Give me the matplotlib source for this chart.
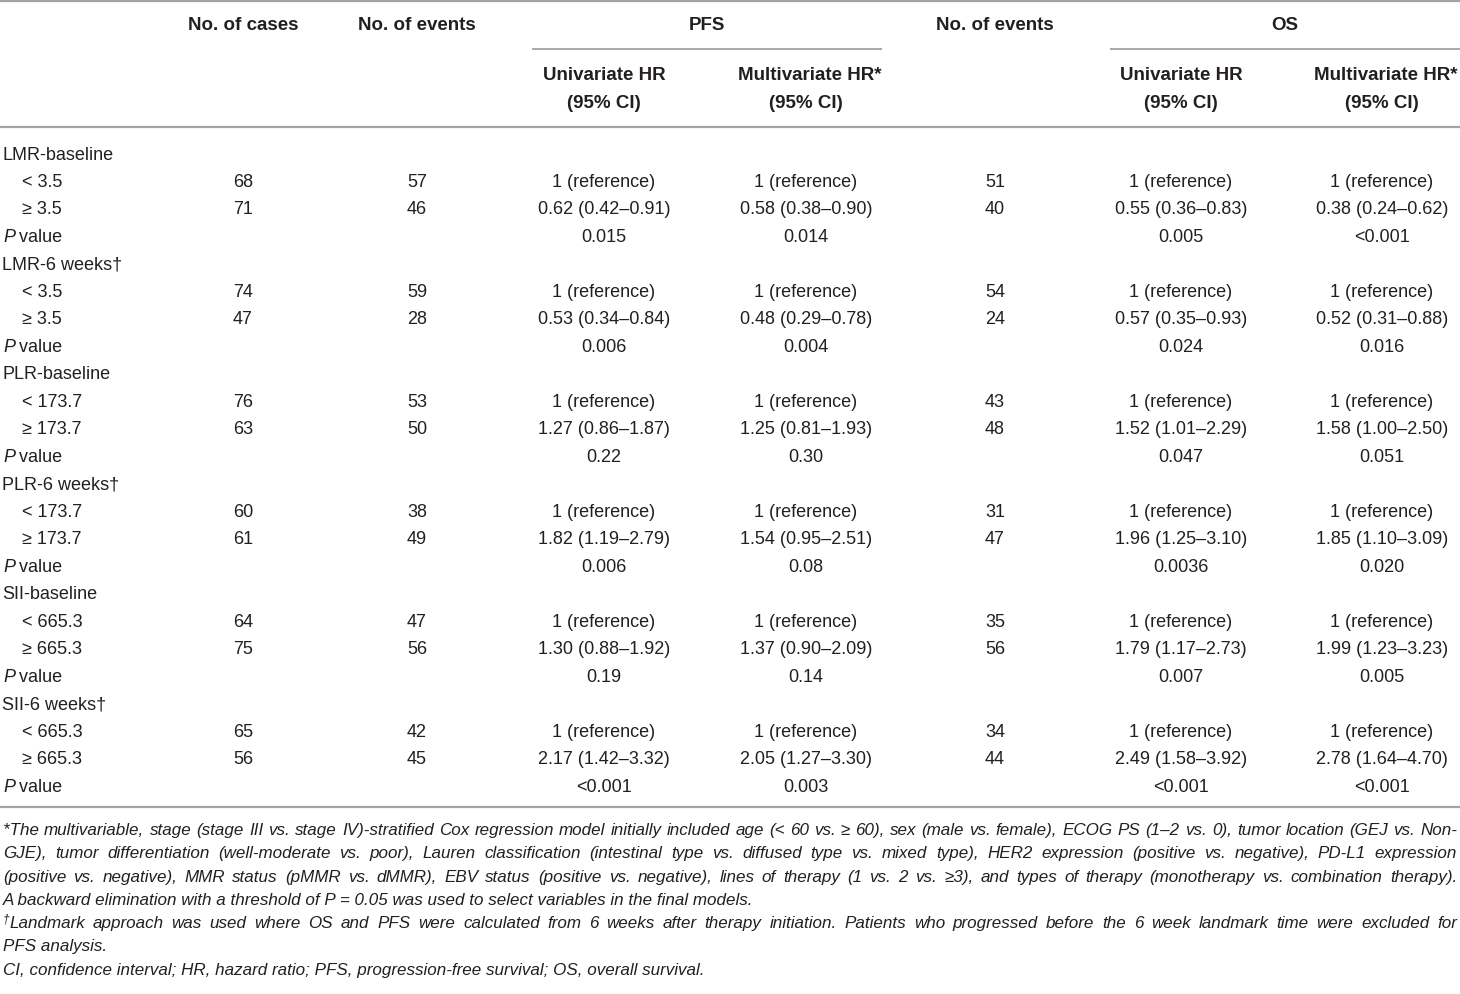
import matplotlib
matplotlib.use("Agg")
import matplotlib.pyplot as plt

# ---- table data ----
groups = ["LMR-baseline", "LMR-6 weeks\u2020", "PLR-baseline", "PLR-6 weeks\u2020",
          "SII-baseline", "SII-6 weeks\u2020"]
cutoffs = ["3.5", "3.5", "173.7", "173.7", "665.3", "665.3"]
cases = [[68, 71], [74, 47], [76, 63], [60, 61], [64, 75], [65, 56]]
pfs_events = [[57, 46], [59, 28], [53, 50], [38, 49], [47, 56], [42, 45]]
pfs_uni = ["0.62 (0.42\u20130.91)", "0.53 (0.34\u20130.84)", "1.27 (0.86\u20131.87)",
           "1.82 (1.19\u20132.79)", "1.30 (0.88\u20131.92)", "2.17 (1.42\u20133.32)"]
pfs_uni_p = ["0.015", "0.006", "0.22", "0.006", "0.19", "<0.001"]
pfs_multi = ["0.58 (0.38\u20130.90)", "0.48 (0.29\u20130.78)", "1.25 (0.81\u20131.93)",
             "1.54 (0.95\u20132.51)", "1.37 (0.90\u20132.09)", "2.05 (1.27\u20133.30)"]
pfs_multi_p = ["0.014", "0.004", "0.30", "0.08", "0.14", "0.003"]
os_events = [[51, 40], [54, 24], [43, 48], [31, 47], [35, 56], [34, 44]]
os_uni = ["0.55 (0.36\u20130.83)", "0.57 (0.35\u20130.93)", "1.52 (1.01\u20132.29)",
          "1.96 (1.25\u20133.10)", "1.79 (1.17\u20132.73)", "2.49 (1.58\u20133.92)"]
os_uni_p = ["0.005", "0.024", "0.047", "0.0036", "0.007", "<0.001"]
os_multi = ["0.38 (0.24\u20130.62)", "0.52 (0.31\u20130.88)", "1.58 (1.00\u20132.50)",
            "1.85 (1.10\u20133.09)", "1.99 (1.23\u20133.23)", "2.78 (1.64\u20134.70)"]
os_multi_p = ["<0.001", "0.016", "0.051", "0.020", "0.005", "<0.001"]

# footnote lines: (text, justified?, dagger prefix?)
notes = [
    ("*The multivariable, stage (stage III vs. stage IV)-stratified Cox regression model initially included "
     "age (< 60 vs. \u2265 60), sex (male vs. female), ECOG PS (1\u20132 vs. 0), tumor location (GEJ vs. Non-", True, False),
    ("GJE), tumor differentiation (well-moderate vs. poor), Lauren classification (intestinal type vs. "
     "diffused type vs. mixed type), HER2 expression (positive vs. negative), PD-L1 expression", True, False),
    ("(positive vs. negative), MMR status (pMMR vs. dMMR), EBV status (positive vs. negative), lines of "
     "therapy (1 vs. 2 vs. \u22653), and types of therapy (monotherapy vs. combination therapy).", True, False),
    ("A backward elimination with a threshold of P = 0.05 was used to select variables in the final models.", False, False),
    ("Landmark approach was used where OS and PFS were calculated from 6 weeks after therapy initiation. "
     "Patients who progressed before the 6 week landmark time were excluded for", True, True),
    ("PFS analysis.", False, False),
    ("CI, confidence interval; HR, hazard ratio; PFS, progression-free survival; OS, overall survival.", False, False),
]

FAM = ["Liberation Sans", "DejaVu Sans"]
TXT = "#231f20"
RULE = "#a3a3a3"

fig = plt.figure(figsize=(14.6, 9.95), dpi=100)
ax = fig.add_axes([0, 0, 1, 1])
ax.set_xlim(0, 1460)
ax.set_ylim(995, 0)
ax.axis("off")

# rules
ax.plot([0, 1460], [2, 2], color=RULE, lw=1.6, solid_capstyle="butt")
ax.plot([532, 882], [50, 50], color=RULE, lw=1.3, solid_capstyle="butt")
ax.plot([1110, 1460], [50, 50], color=RULE, lw=1.3, solid_capstyle="butt")
ax.plot([0, 1460], [128, 128], color=RULE, lw=1.6, solid_capstyle="butt")
ax.plot([0, 1460], [808, 808], color=RULE, lw=1.6, solid_capstyle="butt")

cx = [243, 417, 604, 806, 995, 1181, 1382]
hd = dict(ha="center", va="center", fontsize=13.5, fontweight="bold", color=TXT, family=FAM)
ax.text(cx[0], 25, "No. of cases", **hd)
ax.text(cx[1], 25, "No. of events", **hd)
ax.text(707, 25, "PFS", **hd)
ax.text(cx[4], 25, "No. of events", **hd)
ax.text(1285, 25, "OS", **hd)
for c, lab in [(cx[2], "Univariate HR"), (cx[3] + 4, "Multivariate HR*"),
               (cx[5], "Univariate HR"), (cx[6] + 4, "Multivariate HR*")]:
    ax.text(c, 75, lab, **hd)
for c in [cx[2], cx[3], cx[5], cx[6]]:
    ax.text(c, 103, "(95% CI)", **hd)

bd = dict(va="baseline", fontsize=13, color=TXT, family=FAM)
y0, dy = 153 + 6.5, 27.48   # baselines
for g in range(len(groups)):
    y = y0 + 4 * g * dy
    ax.text(2, y, groups[g], ha="left", **bd)
    for k, sym in enumerate(["<", "\u2265"]):
        yy = y + (k + 1) * dy
        ax.text(22, yy, sym + " " + cutoffs[g], ha="left", **bd)
        ax.text(cx[0], yy, str(cases[g][k]), ha="center", **bd)
        ax.text(cx[1], yy, str(pfs_events[g][k]), ha="center", **bd)
        ax.text(cx[4], yy, str(os_events[g][k]), ha="center", **bd)
        ax.text(cx[2], yy, "1 (reference)" if k == 0 else pfs_uni[g], ha="center", **bd)
        ax.text(cx[3], yy, "1 (reference)" if k == 0 else pfs_multi[g], ha="center", **bd)
        ax.text(cx[5], yy, "1 (reference)" if k == 0 else os_uni[g], ha="center", **bd)
        ax.text(cx[6], yy, "1 (reference)" if k == 0 else os_multi[g], ha="center", **bd)
    yp = y + 3 * dy
    ax.text(3, yp, "P", ha="left", style="italic", **bd)
    ax.text(14, yp, " value", ha="left", **bd)
    ax.text(cx[2], yp, pfs_uni_p[g], ha="center", **bd)
    ax.text(cx[3], yp, pfs_multi_p[g], ha="center", **bd)
    ax.text(cx[5], yp, os_uni_p[g], ha="center", **bd)
    ax.text(cx[6], yp, os_multi_p[g], ha="center", **bd)

# footnotes, justified like the journal layout
rend = fig.canvas.get_renderer()
left, right = 3, 1457


def width(s, size):
    t = ax.text(0, 0, s, fontsize=size, style="italic", family=FAM)
    w = t.get_window_extent(rend).width
    t.remove()
    return w


# largest size at which every justified line still fits with normal spaces
widest = max(width(n[0], 11) + (7 if n[2] else 0) for n in notes if n[1])
size = 11 * (right - left) * 0.99 / widest

ny0, ndy = 830 + 5, 23.3   # baselines
for i, (line, just, dag) in enumerate(notes):
    y = ny0 + i * ndy
    nd = dict(va="baseline", fontsize=size, style="italic", color=TXT, family=FAM)
    x = left
    if dag:
        ax.text(x, y - 6, "\u2020", ha="left", va="baseline", fontsize=size * 0.7,
                style="italic", color=TXT, family=FAM)
        x += 6
    if not just:
        ax.text(x, y, line, ha="left", **nd)
        continue
    words = line.split(" ")
    ws = [width(w, size) for w in words]
    gap = (right - x - sum(ws)) / (len(words) - 1)
    for w, wd in zip(words, ws):
        ax.text(x, y, w, ha="left", **nd)
        x += wd + gap

fig.savefig("out.png", dpi=100)
